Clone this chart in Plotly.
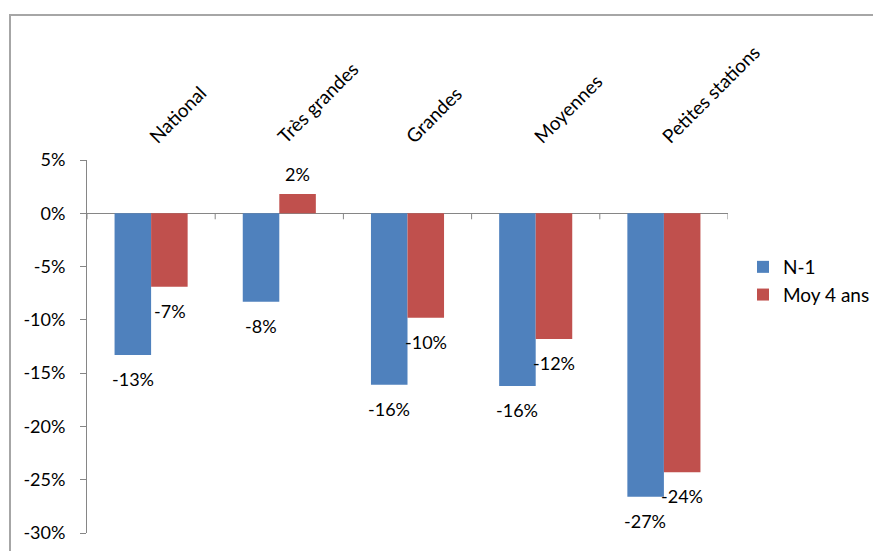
import plotly.graph_objects as go

categories = ["National", "Très grandes", "Grandes", "Moyennes", "Petites stations"]
n1_values = [-13.3, -8.3, -16.1, -16.2, -26.6]
moy4_values = [-6.9, 1.8, -9.8, -11.8, -24.3]
series_names = ["N-1", "Moy 4 ans"]
y_tickvals = [5, 0, -5, -10, -15, -20, -25, -30]
y_ticktext = ["5%", "0%", "-5%", "-10%", "-15%", "-20%", "-25%", "-30%"]

BLUE = "#4F81BD"
RED = "#C0504D"
AXIS = "#868686"
FONT = "Lato"
TXT = "#000000"

# page body has an 8px margin: size the figure so the drawing lands where the reference has it
W, H = 865, 543
ML, MT, MR, MB = 79, 152, 145, 18
PW, PH = W - ML - MR, H - MT - MB

fig = go.Figure()
fig.add_trace(go.Bar(x=categories, y=n1_values, name=series_names[0],
                     marker=dict(color=BLUE, line=dict(width=0))))
fig.add_trace(go.Bar(x=categories, y=moy4_values, name=series_names[1],
                     marker=dict(color=RED, line=dict(width=0))))

# data labels
annotations = []
for vals, xs in ((n1_values, -18.5), (moy4_values, 18.5)):
    for c, v in zip(categories, vals):
        annotations.append(dict(
            x=c, y=v, xref="x", yref="y", text=f"{round(v):d}%",
            showarrow=False, xshift=xs, yshift=(20 if v > 0 else -24),
            yanchor="middle", xanchor="center",
            font=dict(family=FONT, size=18, color=TXT)))

shapes = []
# category boundary tick marks on the zero line
for i in range(len(categories) + 1):
    shapes.append(dict(type="line", xref="x", yref="y", ysizemode="pixel",
                       yanchor=0, x0=i - 0.5, x1=i - 0.5, y0=0, y1=-6,
                       line=dict(color=AXIS, width=1)))
# chart border
shapes.append(dict(type="rect", xref="paper", yref="paper",
                   x0=(2 - ML) / PW, x1=1.4, y0=-0.2, y1=1 + (MT - 7) / PH,
                   line=dict(color="#A6A6A6", width=2), layer="below"))

fig.update_layout(
    width=W, height=H,
    margin=dict(l=ML, r=MR, t=MT, b=MB, autoexpand=False),
    paper_bgcolor="white", plot_bgcolor="white",
    barmode="group", bargap=0.43, bargroupgap=0,
    font=dict(family=FONT, size=17, color=TXT),
    showlegend=True,
    legend=dict(x=(735 - ML) / PW, xanchor="left", y=1 - (273 - MT) / PH, yanchor="middle",
                font=dict(family=FONT, size=19, color=TXT),
                itemwidth=30, bgcolor="rgba(0,0,0,0)"),
    xaxis=dict(side="top", type="category", range=[-0.5, 4.5],
               tickangle=-45, ticks="", showline=False, showgrid=False,
               zeroline=False, tickfont=dict(family=FONT, size=19, color=TXT),
               ticklabelstandoff=8, automargin=False),
    yaxis=dict(range=[-30, 5], tickvals=y_tickvals, ticktext=y_ticktext,
               showgrid=False, showline=True, linecolor=AXIS, linewidth=1,
               ticks="outside", ticklen=6, tickcolor=AXIS, ticklabelstandoff=11,
               zeroline=True, zerolinecolor=AXIS, zerolinewidth=1, automargin=False,
               ticklabeloverflow="allow",
               tickfont=dict(family=FONT, size=18, color=TXT)),
    annotations=annotations,
    shapes=shapes,
)

fig.write_html("out.html")
